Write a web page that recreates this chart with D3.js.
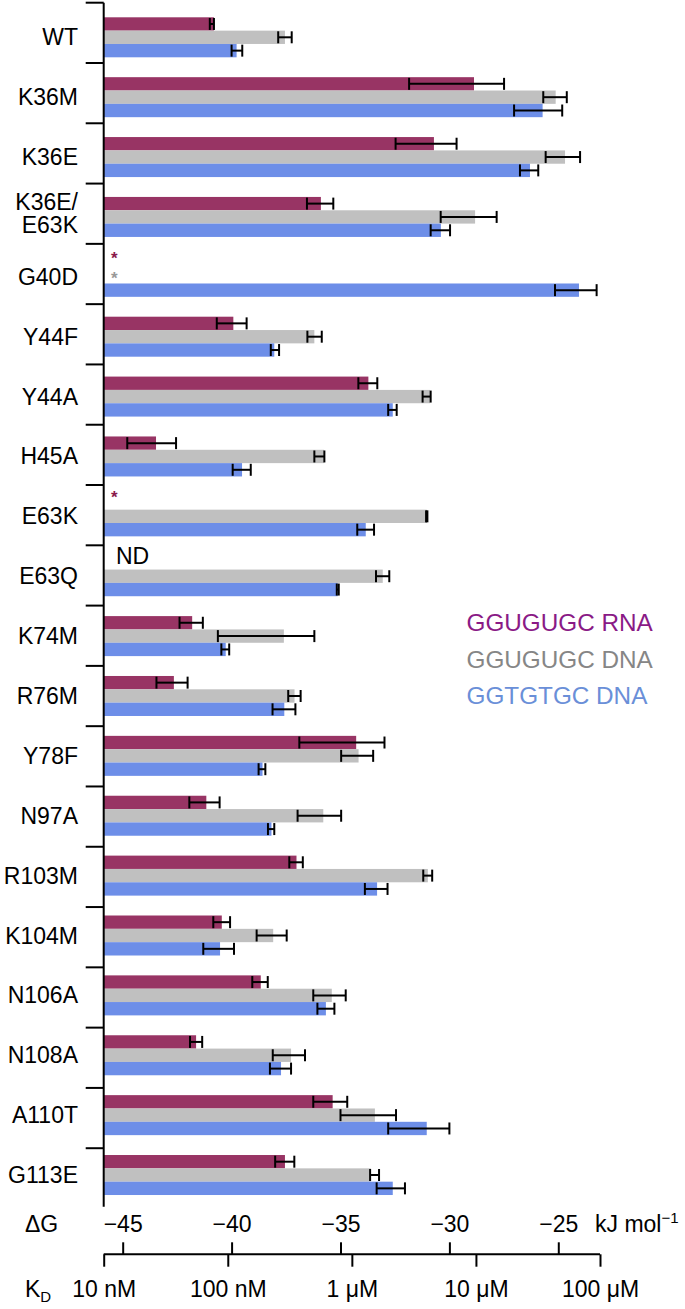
<!DOCTYPE html>
<html>
<head>
<meta charset="utf-8">
<script src="https://cdn.jsdelivr.net/npm/d3@7"></script>
<style>
  html, body { margin: 0; padding: 0; background: #fff; }
  svg { display: block; }
  text { font-family: "Liberation Sans", Arial, Helvetica, sans-serif; }
</style>
</head>
<body>
<svg id="chart" width="685" height="1309"></svg>
<script>
// ---------------- data ----------------
const categories = ["WT","K36M","K36E","K36E/E63K","G40D","Y44F","Y44A","H45A","E63K","E63Q",
  "K74M","R76M","Y78F","N97A","R103M","K104M","N106A","N108A","A110T","G113E"];

const seriesNames = ["GGUGUGC RNA","GGUGUGC DNA","GGTGTGC DNA"];

// ΔG (kJ/mol) values; null = not measurable
const rnaDG  = [-40.81,-28.87,-30.71,-35.90,null,-39.92,-33.72,-43.47,null,null,
  -41.81,-42.65,-34.28,-41.16,-37.02,-40.45,-38.66,-41.63,-35.36,-37.55];
const rnaLo  = [-41.00,-31.85,-32.47,-36.54,null,-40.68,-34.18,-44.79,null,null,
  -42.39,-43.45,-36.89,-41.94,-37.35,-40.84,-39.05,-41.91,-36.25,-38.00];
const rnaHi  = [-40.81,-27.49,-29.67,-35.33,null,-39.31,-33.31,-42.55,null,null,
  -41.32,-42.02,-32.98,-40.55,-36.73,-40.07,-38.34,-41.35,-34.69,-37.12];

const dnaUDG = [-37.55,-25.12,-24.69,-28.82,null,-36.20,-30.89,-35.76,-31.04,-33.06,
  -37.60,-37.11,-34.17,-35.79,-30.99,-38.09,-35.40,-37.27,-33.42,-33.61];
const dnaULo = [-37.86,-25.69,-25.58,-30.40,null,-36.52,-31.23,-36.20,-31.07,-33.37,
  -40.63,-37.40,-34.97,-36.97,-31.20,-38.85,-36.25,-38.11,-35.00,-33.64];
const dnaUHi = [-37.24,-24.61,-24.00,-27.83,null,-35.86,-30.86,-35.74,-31.01,-32.76,
  -36.20,-36.83,-33.50,-34.97,-30.79,-37.47,-34.76,-36.63,-32.45,-33.23];

const dnaTDG = [-39.77,-25.72,-26.30,-30.39,-24.05,-38.04,-32.60,-39.52,-33.84,-35.13,
  -40.27,-37.58,-38.58,-38.17,-33.32,-40.53,-35.67,-37.73,-31.04,-32.60];
const dnaTLo = [-40.00,-27.03,-26.76,-30.86,-25.15,-38.20,-32.81,-39.95,-34.23,-35.17,
  -40.47,-38.12,-38.76,-38.33,-33.88,-41.30,-36.06,-38.24,-32.81,-33.34];
const dnaTHi = [-39.51,-24.82,-25.92,-29.97,-23.24,-37.82,-32.42,-39.12,-33.46,-35.08,
  -40.11,-37.07,-38.45,-38.04,-32.84,-39.89,-35.28,-37.27,-30.00,-32.04];

// annotations for missing values
const notes = [
  {cat:"G40D", series:"GGUGUGC RNA", text:"*"},
  {cat:"G40D", series:"GGUGUGC DNA", text:"*"},
  {cat:"E63K", series:"GGUGUGC RNA", text:"*"},
  {cat:"E63Q", series:"GGUGUGC RNA", text:"ND"}
];

const dGTicks = [-45,-40,-35,-30,-25];
const kdTicks = [1e-8,1e-7,1e-6,1e-5,1e-4];
const kdLabels = ["10 nM","100 nM","1 \u03bcM","10 \u03bcM","100 \u03bcM"];

// ---------------- styles ----------------
const barColors = {"GGUGUGC RNA":"#983464","GGUGUGC DNA":"#c0c0c0","GGTGTGC DNA":"#6d8ee8"};
const legendColors = {"GGUGUGC RNA":"#8a1a86","GGUGUGC DNA":"#868686","GGTGTGC DNA":"#6a8fd8"};
const noteColors = {"GGUGUGC RNA":"#8a1a4c","GGUGUGC DNA":"#999999","GGTGTGC DNA":"#6a90de"};
const FS = 23;

// ---------------- build table ----------------
const table = categories.map((c,i) => ({
  cat: c,
  bars: [
    {series: seriesNames[0], v: rnaDG[i], lo: rnaLo[i], hi: rnaHi[i]},
    {series: seriesNames[1], v: dnaUDG[i], lo: dnaULo[i], hi: dnaUHi[i]},
    {series: seriesNames[2], v: dnaTDG[i], lo: dnaTLo[i], hi: dnaTHi[i]}
  ]
}));

const svg = d3.select("#chart");

// scales
const axisX = 103.7, axisRight = 600;
const x = d3.scaleLinear().domain([-45.872, -23.085]).range([axisX, axisRight]);
const xKd = d3.scaleLog().domain([1e-8, 1e-4]).range([axisX, axisRight]);

const y = d3.scaleBand().domain(categories).range([7.36, 1204.96])
  .paddingInner(0.332).paddingOuter(0.166);
const ySub = d3.scaleBand().domain(seriesNames).range([0, y.bandwidth()]);
const yTick = d3.scaleBand().domain(categories).range([2.7, 1208.5]);

// bars
const groups = svg.append("g").selectAll("g.grp").data(table).join("g")
  .attr("class","grp")
  .attr("transform", d => `translate(0,${y(d.cat)})`);

groups.selectAll("rect").data(d => d.bars.filter(b => b.v !== null)).join("rect")
  .attr("x", axisX)
  .attr("y", b => ySub(b.series))
  .attr("width", b => x(b.v) - axisX)
  .attr("height", ySub.bandwidth())
  .attr("fill", b => barColors[b.series]);

// error bars
const capH = 12;
const eb = groups.selectAll("g.err").data(d => d.bars.filter(b => b.v !== null)).join("g")
  .attr("class","err")
  .attr("transform", b => `translate(0,${ySub(b.series) + ySub.bandwidth()/2})`)
  .attr("stroke","#000").attr("stroke-width",2);
eb.append("line").attr("x1", b => x(b.lo)).attr("x2", b => x(b.hi)).attr("y1",0).attr("y2",0);
eb.append("line").attr("x1", b => x(b.lo)).attr("x2", b => x(b.lo)).attr("y1",-capH/2).attr("y2",capH/2);
eb.append("line").attr("x1", b => x(b.hi)).attr("x2", b => x(b.hi)).attr("y1",-capH/2).attr("y2",capH/2);

// notes (asterisks / ND)
const starOffset = {"GGUGUGC RNA": 7, "GGUGUGC DNA": 14, "GGTGTGC DNA": 14};
svg.append("g").selectAll("text").data(notes).join("text")
  .attr("x", d => d.text === "ND" ? 116 : 111)
  .attr("y", d => y(d.cat) + ySub(d.series) + (d.text === "ND" ? 7.5 : starOffset[d.series]))
  .attr("font-size", d => d.text === "ND" ? FS : 17)
  .attr("font-weight", d => d.text === "ND" ? null : "bold")
  .attr("font-family", d => d.text === "ND" ? null : "DejaVu Sans")
  .attr("fill", d => d.text === "ND" ? "#000" : noteColors[d.series])
  .text(d => d.text);

// left axis
const yAxisG = svg.append("g").attr("stroke","#000").attr("stroke-width",2);
yAxisG.append("line").attr("x1",axisX).attr("x2",axisX)
  .attr("y1", yTick(categories[0])).attr("y2", 1206.7);
yAxisG.selectAll("line.tk").data(categories).join("line").attr("class","tk")
  .attr("x1", axisX - 18).attr("x2", axisX)
  .attr("y1", d => yTick(d)).attr("y2", d => yTick(d));

// category labels
const labels = svg.append("g").attr("font-size", FS).attr("fill","#000").attr("text-anchor","end");
table.forEach(d => {
  const cy = y(d.cat) + y.bandwidth()/2;
  const parts = d.cat.split("/");
  if (parts.length === 1) {
    labels.append("text").attr("x", 78).attr("y", cy + 8).text(d.cat);
  } else {
    labels.append("text").attr("x", 78).attr("y", cy - 7).text(parts[0] + "/");
    labels.append("text").attr("x", 78).attr("y", cy + 16.5).text(parts[1]);
  }
});

// bottom axes
const axisY = 1254.3;
const gTop = svg.append("g").attr("transform", `translate(0,${axisY})`)
  .call(d3.axisTop(x).tickValues(dGTicks).tickSizeInner(12).tickSizeOuter(0)
    .tickFormat(v => "\u2212" + Math.abs(v)));
gTop.select(".domain").remove();
gTop.selectAll(".tick line").attr("stroke","#000").attr("stroke-width",2);
gTop.selectAll(".tick text").attr("font-size", FS).attr("font-family", null)
  .attr("fill","#000").attr("y", 1232 - axisY).attr("dy", null);

const gBot = svg.append("g").attr("transform", `translate(0,${axisY})`)
  .call(d3.axisBottom(xKd).tickValues(kdTicks).tickSizeInner(12.4).tickSizeOuter(0)
    .tickFormat((v,i) => kdLabels[i]));
gBot.select(".domain").attr("stroke","#000").attr("stroke-width",2)
  .attr("d", `M${axisX},0H${axisRight}`);
gBot.selectAll(".tick line").attr("stroke","#000").attr("stroke-width",2);
gBot.selectAll(".tick text").attr("font-size", FS).attr("font-family", null)
  .attr("fill","#000").attr("y", 1297 - axisY).attr("dy", null);
gTop.attr("font-family", null).attr("font-size", null);
gBot.attr("font-family", null).attr("font-size", null);

// axis titles
svg.append("text").attr("x", 25).attr("y", 1232).attr("font-size", FS).text("\u0394G");
const kd = svg.append("text").attr("x", 25).attr("y", 1297).attr("font-size", FS);
kd.append("tspan").text("K");
kd.append("tspan").attr("font-size", 15).attr("dy", 5).text("D");
const unit = svg.append("text").attr("x", 595).attr("y", 1232).attr("font-size", FS);
unit.append("tspan").text("kJ mol");
unit.append("tspan").attr("font-size", 15).attr("dy", -9).text("\u22121");

// legend
svg.append("g").selectAll("text").data(seriesNames).join("text")
  .attr("x", 466.5)
  .attr("y", (d,i) => 631 + i*36.7)
  .attr("font-size", 24.3)
  .attr("fill", d => legendColors[d])
  .text(d => d);
</script>
</body>
</html>
